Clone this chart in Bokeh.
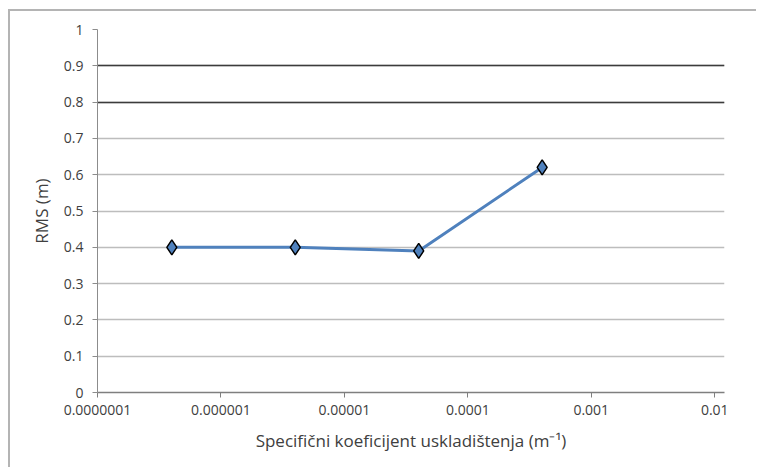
from bokeh.plotting import figure
from bokeh.models import FixedTicker, CustomJSTickFormatter, Range1d, Grid, ColumnDataSource
from bokeh.embed import file_html
from bokeh.resources import INLINE

# data
storage_coef = [4e-7, 4e-6, 4e-5, 4e-4]
rms = [0.40, 0.40, 0.39, 0.62]
x_ticks = [1e-7, 1e-6, 1e-5, 1e-4, 1e-3, 1e-2]
x_tick_labels = ["0.0000001", "0.000001", "0.00001", "0.0001", "0.001", "0.01"]
y_ticks = [0, 0.1, 0.2, 0.3, 0.4, 0.5, 0.6, 0.7, 0.8, 0.9, 1.0]
y_tick_labels = ["0", "0.1", "0.2", "0.3", "0.4", "0.5", "0.6", "0.7", "0.8", "0.9", "1"]
dark_grid = [0.8, 0.9]

FONT = "Open Sans"
TXT = "#404040"

p = figure(width=748, height=458, x_axis_type="log",
           x_range=Range1d(1e-7, 1.2e-2), y_range=Range1d(0, 1),
           output_backend="svg", toolbar_location=None,
           min_border_left=87, min_border_right=34, min_border_top=18, min_border_bottom=77)
p.styles = {"margin-left": "8px", "margin-top": "9px",
            "border-left": "2px solid #b4b4b4", "border-top": "2px solid #b4b4b4"}
p.outline_line_color = None
p.background_fill_color = "white"
p.border_fill_color = "white"

src = ColumnDataSource(dict(x=storage_coef, y=rms))
p.line("x", "y", source=src, line_color="#4F81BD", line_width=3)
p.scatter("x", "y", source=src, marker="diamond", size=15, fill_color="#4F81BD",
          line_color="black", line_width=1.5)

# axes
p.xgrid.visible = False
p.ygrid.ticker = FixedTicker(ticks=y_ticks)
p.ygrid.grid_line_color = "#bdbdbd"
p.ygrid.grid_line_width = 1.5
dg = Grid(dimension=1, ticker=FixedTicker(ticks=dark_grid), grid_line_color="#3c3c3c", grid_line_width=1.5)
p.add_layout(dg)

p.xaxis.ticker = FixedTicker(ticks=x_ticks)
p.xaxis.formatter = CustomJSTickFormatter(args=dict(t=x_ticks, l=x_tick_labels), code="""
let best = 0, bd = 1e9;
for (let i = 0; i < t.length; i++) {
  const d = Math.abs(Math.log10(tick) - Math.log10(t[i]));
  if (d < bd) { bd = d; best = i; }
}
return l[best];
""")
p.yaxis.ticker = FixedTicker(ticks=y_ticks)
p.yaxis.major_label_overrides = {v: s for v, s in zip(y_ticks, y_tick_labels)}

for ax in (p.xaxis[0], p.yaxis[0]):
    ax.major_label_text_font = FONT
    ax.major_label_text_font_size = "14px"
    ax.major_label_text_color = TXT
    ax.axis_label_text_font = FONT
    ax.axis_label_text_font_size = "17px"
    ax.axis_label_text_font_style = "normal"
    ax.axis_label_text_color = TXT
    ax.minor_tick_line_color = None
    ax.major_tick_in = 0
    ax.major_tick_out = 5

p.xaxis.axis_line_color = "#7f7f7f"
p.xaxis.axis_line_width = 1.5
p.xaxis.major_tick_line_color = "#7f7f7f"
p.xaxis.major_label_standoff = 7
p.xaxis.axis_label = "Specifični koeficijent uskladištenja (m⁻¹)"
p.xaxis.axis_label_standoff = 11

p.yaxis.axis_line_color = "#8c8c8c"
p.yaxis.major_tick_line_color = "#8c8c8c"
p.yaxis.major_label_standoff = 9
p.yaxis.axis_label = "RMS (m)"
p.yaxis.axis_label_standoff = 8

open("out.html", "w").write(file_html(p, INLINE))
